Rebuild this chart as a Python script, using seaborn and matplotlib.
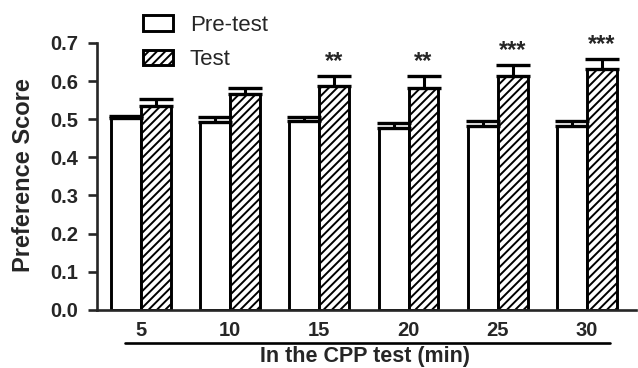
import matplotlib
matplotlib.use('Agg')
import numpy as np
import pandas as pd
import seaborn as sns
import matplotlib.pyplot as plt
import matplotlib.patches as mpatches
import matplotlib.transforms as mtransforms

# values (mean, SEM)
times = ['5', '10', '15', '20', '25', '30']
pre_mean = [0.503, 0.493, 0.496, 0.477, 0.483, 0.482]
pre_sem = [0.006, 0.013, 0.010, 0.014, 0.013, 0.013]
test_mean = [0.534, 0.567, 0.588, 0.582, 0.613, 0.632]
test_sem = [0.018, 0.015, 0.025, 0.031, 0.030, 0.027]
stars = ['', '', '**', '**', '***', '***']
phases = ['Pre-test', 'Test']

sns.set_style('ticks')
plt.rcParams['font.family'] = ['Liberation Sans', 'DejaVu Sans']
plt.rcParams['hatch.linewidth'] = 1.4
plt.rcParams['hatch.color'] = 'black'

df = pd.DataFrame({
    'time': times * 2,
    'score': pre_mean + test_mean,
    'phase': [phases[0]] * len(times) + [phases[1]] * len(times),
})

fig = plt.figure(figsize=(6.38, 3.68), dpi=100)
ax = fig.add_axes([0.152, 0.158, 0.845, 0.7255])

sns.barplot(data=df, x='time', y='score', hue='phase', order=times, hue_order=phases,
            palette=['white', 'white'], edgecolor='black', linewidth=2.1,
            width=0.67, errorbar=None, legend=False, saturation=1, ax=ax)

# hatch the Test bars, add one-sided SEM bars
for cont, means, sems, hatch in zip(ax.containers, [pre_mean, test_mean], [pre_sem, test_sem], ['', '////']):
    xs = []
    for bar in cont:
        bar.set_hatch(hatch)
        xs.append(bar.get_x() + bar.get_width() / 2)
    ax.errorbar(xs, means, yerr=[np.zeros(len(sems)), sems], fmt='none', ecolor='black',
                elinewidth=2.2, capsize=12, capthick=2.4, zorder=1)
    if hatch:
        for x, m, s, st in zip(xs, means, sems, stars):
            if st:
                ax.text(x, m + s + 0.02, st, ha='center', va='baseline', fontsize=17,
                        fontweight='bold', clip_on=False)

ax.set_ylim(0, 0.7)
ax.set_xlim(-0.493, 5.55)
ax.set_yticks(np.arange(0, 0.71, 0.1))
ax.set_yticklabels(['%.1f' % v for v in np.arange(0, 0.71, 0.1)])
sns.despine(ax=ax)
for sp in ['left', 'bottom']:
    ax.spines[sp].set_linewidth(1.9)
ax.tick_params(axis='y', length=6.5, width=1.9, pad=7, labelsize=14.5)
ax.tick_params(axis='x', length=0, pad=8, labelsize=14.5)
for lab in ax.get_xticklabels() + ax.get_yticklabels():
    lab.set_fontweight('bold')

ax.set_ylabel('Preference Score', fontsize=17, fontweight='bold')
ax.yaxis.set_label_coords(-0.115, 0.506)
ax.set_xlabel('In the CPP test (min)', fontsize=15.5, fontweight='bold')
ax.xaxis.set_label_coords(0.498, -0.135)

# line under the time labels
trans = mtransforms.blended_transform_factory(ax.transData, ax.transAxes)
ax.plot([-0.18, 5.26], [-0.124, -0.124], color='black', lw=1.9, transform=trans, clip_on=False)

handles = [mpatches.Patch(facecolor='white', edgecolor='black', linewidth=2.1, label=phases[0]),
           mpatches.Patch(facecolor='white', edgecolor='black', linewidth=2.1, hatch='////', label=phases[1])]
fig.legend(handles=handles, loc='upper left', bbox_to_anchor=(143 / 638, 1 - 15 / 368),
           frameon=False, fontsize=16, handlelength=1.35, handleheight=0.72,
           handletextpad=0.75, labelspacing=0.6, borderpad=0, borderaxespad=0)

fig.savefig('out.png', dpi=100)
